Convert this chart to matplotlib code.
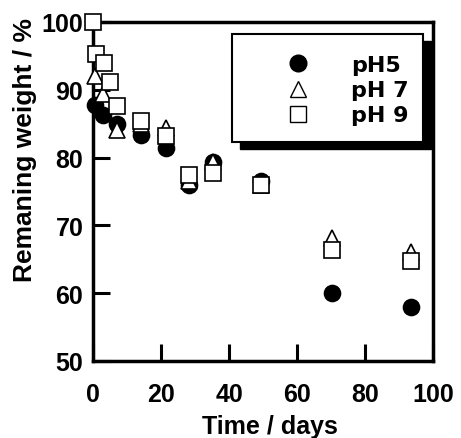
import matplotlib
matplotlib.use('Agg')
import matplotlib.pyplot as plt
from matplotlib.patches import Rectangle
from matplotlib.lines import Line2D

plt.rcParams['font.family'] = ['Liberation Sans', 'DejaVu Sans']

# data (time in days, remaining weight in %)
days_ph5 = [0.6, 2.9, 7.0, 14.0, 21.4, 28.2, 35.2, 49.3, 70.4, 93.5]
wt_ph5 = [87.8, 86.3, 84.9, 83.4, 81.4, 75.9, 79.3, 76.6, 60.1, 57.9]

days_ph7 = [0.6, 2.9, 7.0, 14.0, 21.4, 28.2, 35.2, 49.3, 70.4, 93.5]
wt_ph7 = [92.0, 89.4, 84.1, 85.0, 84.3, 76.6, 79.4, 76.0, 68.2, 66.1]

days_ph9 = [0.0, 0.8, 3.2, 5.0, 7.1, 14.0, 21.4, 28.2, 35.2, 49.3, 70.4, 93.5]
wt_ph9 = [100.0, 95.3, 94.0, 91.1, 87.6, 85.4, 83.2, 77.5, 77.8, 75.9, 66.3, 64.8]

labels = ['pH5', 'pH 7', 'pH 9']
x_ticks = [0, 20, 40, 60, 80, 100]
y_ticks = [50, 60, 70, 80, 90, 100]

fig = plt.figure(figsize=(4.61, 4.39), dpi=100)
ax = fig.add_axes([93 / 461, 1 - 362 / 439, 340 / 461, 339 / 439])

# plot order: circles at the back, squares on top
ax.plot(days_ph5, wt_ph5, 'o', ms=11.5, mfc='black', mec='black', mew=1.2, ls='none',
        zorder=3, clip_on=False)
ax.plot(days_ph7, wt_ph7, '^', ms=11, mfc='white', mec='black', mew=1.2, ls='none',
        zorder=4, clip_on=False)
ax.plot(days_ph9, wt_ph9, 's', ms=11.5, mfc='white', mec='black', mew=1.2, ls='none',
        zorder=5, clip_on=False)

ax.set_xlim(0, 100)
ax.set_ylim(50, 100)
ax.set_xticks(x_ticks)
ax.set_yticks(y_ticks)
ax.tick_params(direction='in', length=12, width=2.2, labelsize=18)
ax.tick_params(axis='x', pad=15)
ax.tick_params(axis='y', pad=7)
for lab in ax.get_xticklabels() + ax.get_yticklabels():
    lab.set_fontweight('bold')
for sp in ax.spines.values():
    sp.set_linewidth(2.5)

ax.set_xlabel('Time / days', fontsize=18, fontweight='bold')
ax.set_ylabel('Remaning weight / %', fontsize=19, fontweight='bold')
ax.xaxis.set_label_coords(0.52, -0.157)
ax.yaxis.set_label_coords(-0.165, 0.625)

# legend box with a solid drop shadow
bx, by, bw, bh = 0.409, 0.645, 0.563, 0.32
ax.add_patch(Rectangle((bx + 0.022, by - 0.02), bw, bh, transform=ax.transAxes,
                       facecolor='black', edgecolor='black', zorder=8, clip_on=False))
ax.add_patch(Rectangle((bx, by), bw, bh, transform=ax.transAxes,
                       facecolor='white', edgecolor='black', lw=1.5, zorder=9, clip_on=False))

handles = [
    Line2D([], [], marker='o', ls='none', ms=12, mfc='black', mec='black'),
    Line2D([], [], marker='^', ls='none', ms=11, mfc='white', mec='black', mew=1.0),
    Line2D([], [], marker='s', ls='none', ms=11, mfc='white', mec='black', mew=1.0),
]
leg = ax.legend(handles, labels, loc='upper left', bbox_to_anchor=(0.492, 0.948),
                frameon=False, handletextpad=1.39, labelspacing=0.23, borderpad=0.2,
                prop={'family': 'DejaVu Sans', 'weight': 'bold', 'size': 16})
leg.set_zorder(10)

plt.savefig('out.png', dpi=100)
